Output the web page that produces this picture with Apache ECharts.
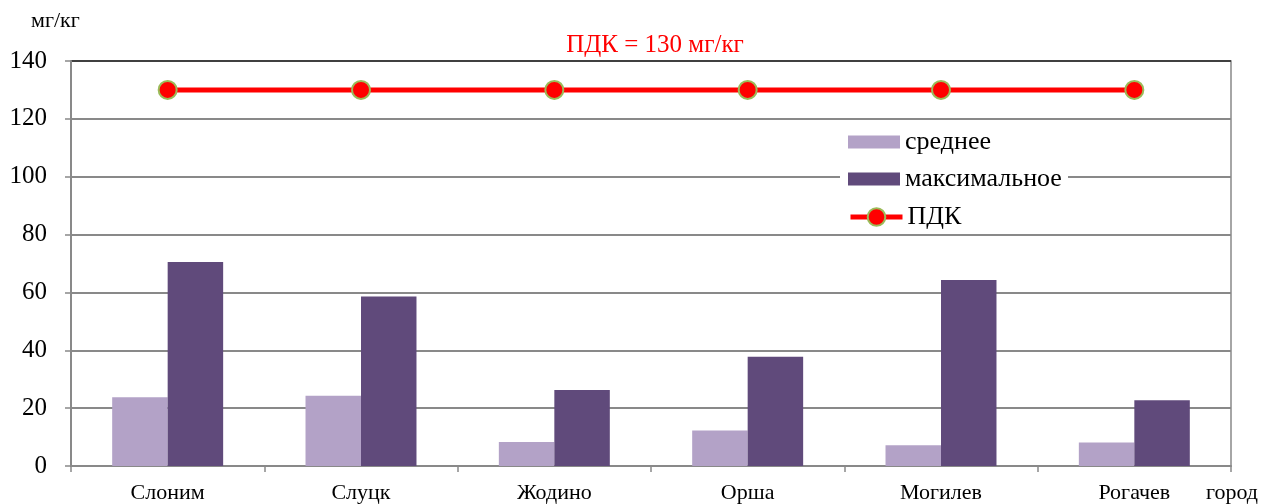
<!DOCTYPE html>
<html>
<head>
<meta charset="utf-8">
<script src="https://cdn.jsdelivr.net/npm/echarts@6/dist/echarts.min.js"></script>
<style>
  html, body { margin: 0; padding: 0; background: #fff; }
  #chart { width: 1268px; height: 504px; }
</style>
</head>
<body>
<div id="chart"></div>
<script>
// Cities along the horizontal axis
const cities = ['Слоним', 'Слуцк', 'Жодино', 'Орша', 'Могилев', 'Рогачев'];
// Mean and maximum concentrations, mg/kg
const meanValues = [23.8, 24.3, 8.3, 12.3, 7.2, 8.1];
const maxValues = [70.5, 58.6, 26.3, 37.8, 64.3, 22.7];
// Maximum permissible concentration (ПДК)
const limitValues = [130, 130, 130, 130, 130, 130];

const serif = '"Liberation Serif", "DejaVu Serif", serif';
const gridColor = '#898989';
const legendText = { fontFamily: serif, fontSize: 26, color: '#000' };

const chart = echarts.init(document.getElementById('chart'));
chart.setOption({
  animation: false,
  backgroundColor: '#fff',
  textStyle: { fontFamily: serif },
  grid: {
    left: 71, right: 37, top: 61, bottom: 37,
    show: true, borderColor: gridColor, borderWidth: 1.5
  },
  graphic: [
    { type: 'text', left: 31, top: 10,
      style: { text: 'мг/кг', font: '22px ' + serif, fill: '#000' } },
    { type: 'text', x: 655, y: 33,
      style: { text: 'ПДК = 130 мг/кг', font: '25px ' + serif, fill: '#ff0000', align: 'center', verticalAlign: 'top' } },
    { type: 'text', left: 1206, top: 482,
      style: { text: 'город', font: '22px ' + serif, fill: '#000' } },
    // white panel behind the legend
    { type: 'rect', z: 1, shape: { x: 840, y: 121, width: 228, height: 113 },
      style: { fill: '#fff' } }
  ],
  legend: [
    {
      orient: 'vertical',
      left: 848, top: 129,
      padding: 0,
      itemWidth: 52, itemHeight: 13, itemGap: 11,
      textStyle: legendText,
      data: [
        { name: 'среднее', icon: 'rect' },
        { name: 'максимальное', icon: 'rect' }
      ]
    },
    {
      orient: 'vertical',
      left: 848, top: 204,
      padding: 0,
      itemWidth: 52, itemHeight: 22,
      textStyle: legendText,
      lineStyle: { width: 5 },
      itemStyle: { borderWidth: 2 },
      data: [{ name: 'ПДК' }]
    }
  ],
  xAxis: {
    type: 'category',
    data: cities,
    boundaryGap: true,
    axisLine: { lineStyle: { color: gridColor, width: 2 } },
    axisTick: { show: true, length: 6, lineStyle: { color: gridColor, width: 1.5 } },
    axisLabel: { color: '#000', fontSize: 22, fontFamily: serif, margin: 16 }
  },
  yAxis: {
    type: 'value',
    min: 0, max: 140, interval: 20,
    axisLine: { show: true, lineStyle: { color: gridColor, width: 2 } },
    axisTick: { show: true, length: 6, lineStyle: { color: gridColor, width: 1.5 } },
    axisLabel: { color: '#000', fontSize: 25, fontFamily: serif, margin: 24 },
    splitLine: {
      show: true,
      lineStyle: {
        width: 2,
        color: [gridColor, gridColor, gridColor, gridColor, gridColor, gridColor, gridColor, '#404040']
      }
    }
  },
  series: [
    {
      name: 'среднее', type: 'bar', data: meanValues,
      barGap: '0%', barCategoryGap: '42.6%',
      itemStyle: { color: '#b3a2c7' }
    },
    {
      name: 'максимальное', type: 'bar', data: maxValues,
      barGap: '0%', barCategoryGap: '42.6%',
      itemStyle: { color: '#604a7b' }
    },
    {
      name: 'ПДК', type: 'line', data: limitValues,
      symbol: 'circle', symbolSize: 18,
      lineStyle: { color: '#ff0000', width: 5 },
      itemStyle: { color: '#ff0000', borderColor: '#9bbb59', borderWidth: 2 },
      z: 5
    }
  ]
});
</script>
</body>
</html>
